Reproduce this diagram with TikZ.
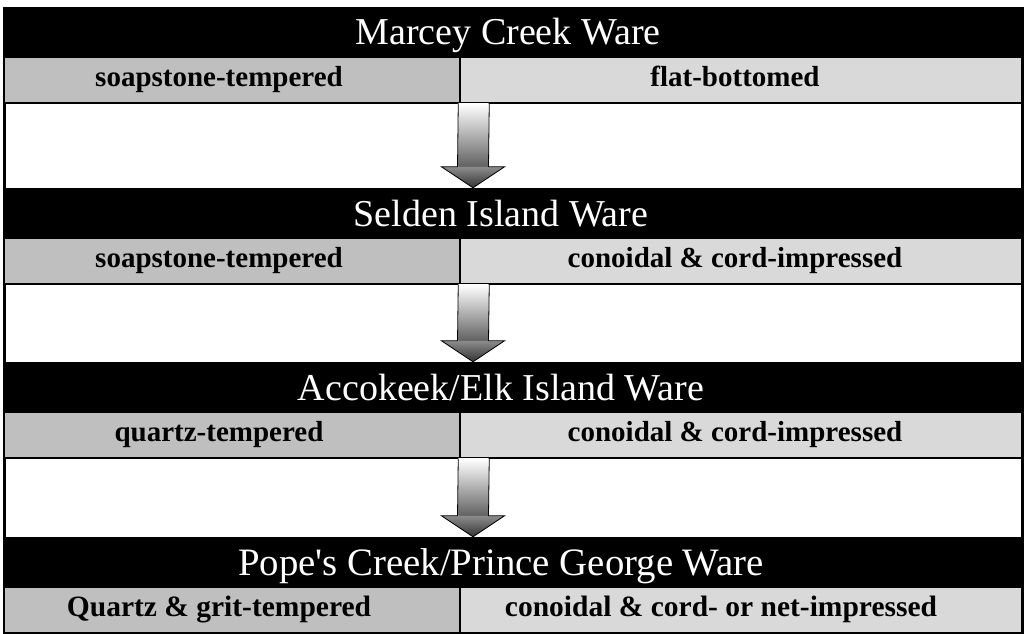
\documentclass[tikz,border=0pt]{standalone}
\usepackage{fontspec}
\setmainfont{Liberation Serif}
\usetikzlibrary{calc}

\definecolor{tempgray}{HTML}{BFBFBF}
\definecolor{formgray}{HTML}{D9D9D9}

% block arrow from one row down to the next
\newcommand{\wareArrow}[2]{%
    \shade[top color=white, bottom color=black!62] ($(#1)+(-15.5,0)$) rectangle ($(#2)+(15.5,-21)$);
    \shade[top color=black!45, bottom color=black!80] ($(#2)+(-31.5,-21)$) -- ($(#2)+(31.5,-21)$) -- (#2) -- cycle;
    \draw[black, line width=0.8pt, line join=miter] ($(#1)+(-15.5,0)$) -- ($(#2)+(-15.5,-21)$) -- ($(#2)+(-31.5,-21)$) -- (#2)
        -- ($(#2)+(31.5,-21)$) -- ($(#2)+(15.5,-21)$) -- ($(#1)+(15.5,0)$);
}

\begin{document}
\begin{tikzpicture}[x=1pt, y=-1pt,
    ware/.style={fill=black, text=white, minimum width=1018pt, minimum height=50pt, inner sep=0pt,
        text height=26pt, text depth=0pt, font=\fontsize{38}{40}\selectfont,
        execute at begin node={\hspace*{-24pt}}},
    temper/.style={fill=tempgray, draw=black, line width=1.5pt, minimum width=456pt, minimum height=46pt, inner sep=0pt,
        text height=13pt, text depth=0pt, font=\fontsize{29}{30}\selectfont\bfseries,
        execute at begin node={\hspace*{-26pt}}},
    form/.style={fill=formgray, draw=black, line width=1.5pt, minimum width=562pt, minimum height=46pt, inner sep=0pt,
        text height=13pt, text depth=0pt, font=\fontsize{29}{30}\selectfont\bfseries,
        execute at begin node={\hspace*{-12pt}}}]
    \useasboundingbox (0,0) rectangle (1026,634);

    % outer frame
    \draw[line width=2.5pt] (4.5,7) -- (4.5,640);
    \draw[line width=2.5pt] (1022.5,7) -- (1022.5,640);

    \node[ware, execute at begin node={\hspace*{14pt}}] (marcey) at (513,32) {Marcey Creek Ware};
    \node[temper] (marceyT) at (232,80) {soapstone-tempered};
    \node[form] (marceyF) at (741,80) {flat-bottomed};

    \node[ware] (selden) at (513,213) {Selden Island Ware};
    \node[temper] (seldenT) at (232,261) {soapstone-tempered};
    \node[form] (seldenF) at (741,261) {conoidal \& cord-impressed};

    \node[ware] (accokeek) at (513,387) {Accokeek/Elk Island Ware};
    \node[temper] (accokeekT) at (232,435) {quartz-tempered};
    \node[form] (accokeekF) at (741,435) {conoidal \& cord-impressed};

    \node[ware, font=\fontsize{38.8}{40}\selectfont] (popes) at (513,562) {Pope\textquotesingle s Creek/Prince George Ware};
    \node[temper, font=\fontsize{29.5}{31}\selectfont\bfseries] (popesT) at (232,610) {Quartz \& grit-tempered};
    \node[form, font=\fontsize{29.5}{31}\selectfont\bfseries, execute at begin node={\hspace*{-28pt}}] (popesF) at (741,610) {conoidal \& cord- or net-impressed};

    \coordinate (a1s) at ($(marceyT.south east)+(13,0)$);
    \coordinate (a1e) at ($(selden.north)+(-40,0)$);
    \coordinate (a2s) at ($(seldenT.south east)+(13,0)$);
    \coordinate (a2e) at ($(accokeek.north)+(-40,0)$);
    \coordinate (a3s) at ($(accokeekT.south east)+(13,0)$);
    \coordinate (a3e) at ($(popes.north)+(-40,0)$);
    \wareArrow{a1s}{a1e}
    \wareArrow{a2s}{a2e}
    \wareArrow{a3s}{a3e}
\end{tikzpicture}
\end{document}
